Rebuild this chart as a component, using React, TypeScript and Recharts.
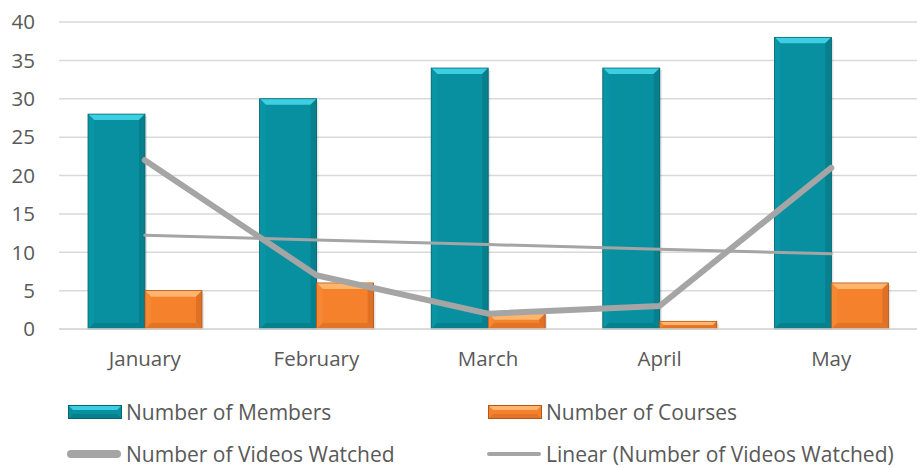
import React from 'react'
import { ComposedChart, Bar, Line, XAxis, YAxis, CartesianGrid } from 'recharts'

const months = ['January', 'February', 'March', 'April', 'May']
const members = [28, 30, 34, 34, 38]
const courses = [5, 6, 2, 1, 6]
const videos = [22, 7, 2, 3, 21]
// linear trendline of videos
const videosTrend = [12.2, 11.6, 11.0, 10.4, 9.8]
const yTicks = [0, 5, 10, 15, 20, 25, 30, 35, 40]

const data = months.map((m, i) => ({
  month: m,
  members: members[i],
  courses: courses[i],
  videos: videos[i],
  trend: videosTrend[i],
}))

const FONT = '"Open Sans", "Noto Sans", sans-serif'
const TEXT = '#595959'
const GREY_LINE = '#A5A5A5'

const teal = {
  main: '#0890A0',
  top: '#3CCFE2',
  left: '#0A95A5',
  right: '#077F8D',
  bottom: '#07808E',
  edge: '#056470',
}
const orange = {
  main: '#F5812C',
  top: '#FFB56C',
  left: '#F68733',
  right: '#DE7126',
  bottom: '#E27427',
  edge: '#B4561A',
}

type Palette = typeof teal

function bevelShape(p: Palette) {
  return (props: any) => {
    const { x, y, width: w, height: h } = props
    if (!h || h <= 0) return <g />
    const b = Math.min(6, h / 2, w / 2)
    const pts = (arr: number[][]) => arr.map((a) => a.join(',')).join(' ')
    return (
      <g>
        <rect x={x + 2} y={y + 2} width={w} height={h - 1} fill="#000" opacity={0.1} />
        <rect x={x} y={y} width={w} height={h} fill={p.main} />
        <polygon points={pts([[x, y], [x + w, y], [x + w - b, y + b], [x + b, y + b]])} fill={p.top} />
        <polygon points={pts([[x, y], [x + b, y + b], [x + b, y + h - b], [x, y + h]])} fill={p.left} />
        <polygon points={pts([[x + w, y], [x + w, y + h], [x + w - b, y + h - b], [x + w - b, y + b]])} fill={p.right} />
        <polygon points={pts([[x, y + h], [x + w, y + h], [x + w - b, y + h - b], [x + b, y + h - b]])} fill={p.bottom} />
        <rect x={x} y={y} width={w} height={h} fill="none" stroke={p.edge} strokeWidth={0.8} />
      </g>
    )
  }
}

function SwatchBox({ p }: { p: Palette }) {
  return (
    <svg width={54} height={14} style={{ display: 'block' }}>
      <rect x={0.5} y={0.5} width={53} height={13} fill={p.main} stroke={p.edge} />
      <polygon points="1,1 53,1 49,5 5,5" fill={p.top} />
      <polygon points="1,13 53,13 49,9 5,9" fill={p.bottom} />
    </svg>
  )
}

function SwatchLine({ w }: { w: number }) {
  return (
    <svg width={56} height={10} style={{ display: 'block' }}>
      <line x1={w / 2 + 1} y1={5} x2={55 - w / 2} y2={5} stroke={GREY_LINE} strokeWidth={w} strokeLinecap="round" />
    </svg>
  )
}

function LegendItem({ left, top, icon, label }: { left: number; top: number; icon: React.ReactNode; label: string }) {
  return (
    <div
      style={{
        position: 'absolute',
        left,
        top,
        height: 20,
        lineHeight: '20px',
        display: 'flex',
        alignItems: 'center',
        gap: 4,
        fontFamily: FONT,
        fontSize: 21,
        color: TEXT,
        whiteSpace: 'nowrap',
      }}
    >
      {icon}
      <span style={{ lineHeight: '20px' }}>{label}</span>
    </div>
  )
}

export default function App() {
  return (
    <div style={{ position: 'absolute', left: 0, top: 0, width: 917, height: 468, background: '#fff' }}>
      <ComposedChart
        width={917}
        height={380}
        data={data}
        margin={{ top: 22, right: 0, left: 0, bottom: 0 }}
        barSize={57}
        barGap={0}
      >
        <CartesianGrid vertical={false} stroke="#D9D9D9" strokeWidth={1.5} />
        <XAxis
          dataKey="month"
          height={51}
          tickLine={false}
          axisLine={{ stroke: '#D9D9D9', strokeWidth: 1.5 }}
          tick={{ fill: TEXT, fontSize: 20.5, fontFamily: FONT }}
          tickMargin={16}
        />
        <YAxis
          width={59}
          domain={[0, 40]}
          ticks={yTicks}
          axisLine={false}
          tickLine={false}
          tickMargin={18}
          tick={{ fill: TEXT, fontSize: 20.5, fontFamily: FONT }}
        />
        <Bar dataKey="members" isAnimationActive={false} shape={bevelShape(teal)} />
        <Bar dataKey="courses" isAnimationActive={false} shape={bevelShape(orange)} />
        <Line
          dataKey="videos"
          type="linear"
          stroke={GREY_LINE}
          strokeWidth={6}
          strokeLinecap="round"
          strokeLinejoin="round"
          dot={false}
          activeDot={false}
          isAnimationActive={false}
        />
        <Line
          dataKey="trend"
          type="linear"
          stroke={GREY_LINE}
          strokeWidth={3}
          strokeLinecap="round"
          dot={false}
          activeDot={false}
          isAnimationActive={false}
        />
      </ComposedChart>
      <LegendItem left={68} top={402} icon={<SwatchBox p={teal} />} label="Number of Members" />
      <LegendItem left={488} top={402} icon={<SwatchBox p={orange} />} label="Number of Courses" />
      <LegendItem left={66} top={444} icon={<SwatchLine w={8} />} label="Number of Videos Watched" />
      <LegendItem left={486} top={444} icon={<SwatchLine w={4} />} label="Linear (Number of Videos Watched)" />
    </div>
  )
}
